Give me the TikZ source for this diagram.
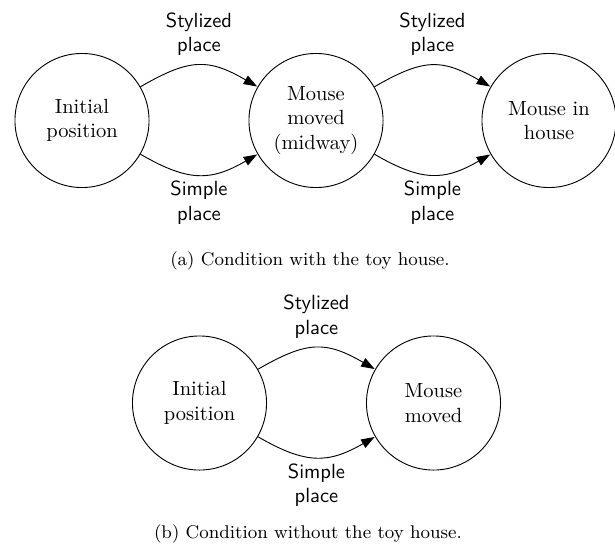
\documentclass[tikz,border=0pt]{standalone}
\usetikzlibrary{arrows.meta}

\tikzset{
  state/.style={draw, circle, line width=0.45pt, minimum size=65.4pt,
    inner sep=0pt, align=center, font=\rmfamily},
  trans/.style={draw, line width=0.45pt,
    -{Triangle[length=6.6pt,width=4.6pt]}, shorten >=0.2pt},
  lbl/.style={font=\sffamily, align=center},
  capt/.style={font=\small, anchor=base}
}

\begin{document}
\begin{tikzpicture}[x=0.4878pt, y=-0.4878pt]
  \useasboundingbox (0,0) rectangle (615,546);

  % (a) with the toy house
  \node[state] (a1) at (82,120.5)  {Initial\\position};
  \node[state] (a2) at (316,120.5) {Mouse\\moved\\(midway)};
  \node[state] (a3) at (549,120.5) {Mouse in\\house};

  \draw[trans] (a1) to[bend left=30, looseness=1.25]
    node[lbl, above=1.2pt] {Stylized\\place} (a2);
  \draw[trans] (a1) to[bend right=30, looseness=1.2]
    node[lbl, below=-0.5pt] {Simple\\place} (a2);
  \draw[trans] (a2) to[bend left=30, looseness=1.25]
    node[lbl, above=1.2pt] {Stylized\\place} (a3);
  \draw[trans] (a2) to[bend right=30, looseness=1.2]
    node[lbl, below=-0.5pt] {Simple\\place} (a3);

  \node[capt] (capa) at (310,265) {(a) Condition with the toy house.};

  % (b) without the toy house
  \node[state] (b1) at (199.5,403) {Initial\\position};
  \node[state] (b2) at (433.5,403) {Mouse\\moved};

  \draw[trans] (b1) to[bend left=30, looseness=1.25]
    node[lbl, above=1.2pt] {Stylized\\place} (b2);
  \draw[trans] (b1) to[bend right=30, looseness=1.2]
    node[lbl, below=-0.5pt] {Simple\\place} (b2);

  \node[capt] (capb) at (308,538) {(b) Condition without the toy house.};
\end{tikzpicture}
\end{document}
